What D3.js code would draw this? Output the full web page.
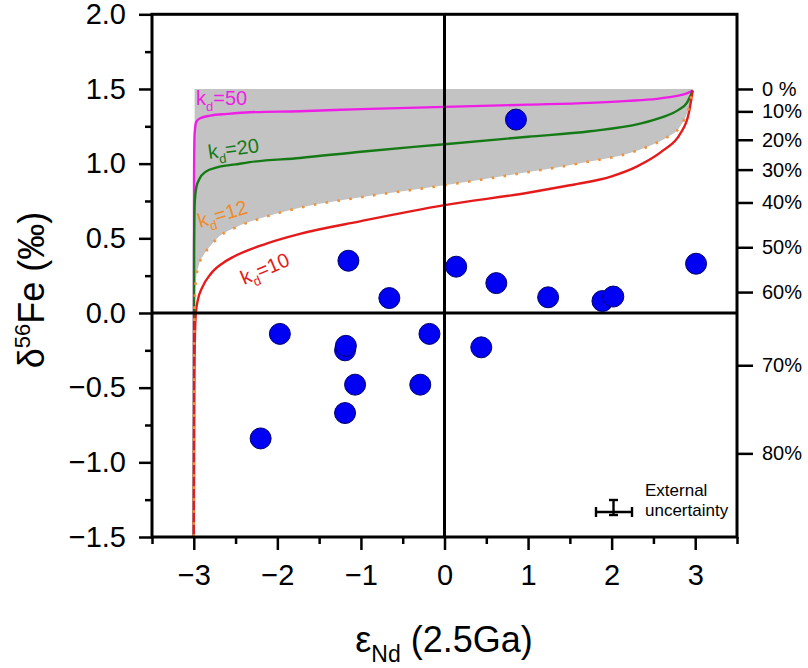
<!DOCTYPE html>
<html>
<head>
<meta charset="utf-8">
<script src="https://cdn.jsdelivr.net/npm/d3@7"></script>
<style>
  html, body { margin: 0; padding: 0; background: #fff; }
  svg { display: block; font-family: "Liberation Sans", Arial, sans-serif; }
</style>
</head>
<body>
<svg id="chart" width="808" height="668"></svg>
<script>
// ---------------- data ----------------
const sampleEpsNd = [-2.2, -1.97, -1.19, -1.18, -1.19, -1.15, -1.07, -0.66, -0.29, -0.18, 0.14, 0.44, 0.62, 0.855, 1.24, 1.89, 2.02, 3.01];
const sampleD56Fe = [-0.84, -0.14, -0.25, -0.22, -0.67, 0.35, -0.48, 0.10, -0.48, -0.14, 0.31, -0.23, 0.20, 1.295, 0.105, 0.08, 0.11, 0.33];

// mixing curves [εNd, δ56Fe]
const kd50 = [[-3.0,-1.5],[-2.997,0.9],[-2.99,1.2],[-2.97,1.28],[-2.92,1.305],[-2.8,1.322],[-2.6,1.333],[-2.33,1.344],[-1.73,1.351],[-1.0,1.365],[0,1.38],[1.0,1.395],[1.74,1.407],[2.2,1.42],[2.54,1.434],[2.75,1.45],[2.9,1.47],[2.97,1.49]];
const kd20 = [[-3.0,-1.5],[-2.997,0.4],[-2.99,0.72],[-2.97,0.84],[-2.93,0.9],[-2.86,0.945],[-2.72,0.975],[-2.5,0.995],[-2.33,1.01],[-1.73,1.038],[-1.0,1.08],[0,1.13],[1.0,1.18],[1.74,1.217],[2.34,1.268],[2.6,1.31],[2.8,1.36],[2.9,1.407],[2.97,1.49]];
const kd12 = [[-3.0,-1.5],[-2.997,-0.5],[-2.99,0.05],[-2.975,0.22],[-2.94,0.32],[-2.88,0.39],[-2.8,0.45],[-2.72,0.5],[-2.49,0.575],[-2.21,0.632],[-1.73,0.705],[-1.0,0.775],[0,0.855],[1.02,0.945],[1.74,1.015],[2.22,1.072],[2.5,1.13],[2.66,1.175],[2.82,1.25],[2.92,1.37],[2.97,1.49]];
const kd10 = [[-3.0,-1.5],[-2.995,-0.6],[-2.988,-0.2],[-2.975,0.0],[-2.95,0.09],[-2.9,0.17],[-2.8,0.26],[-2.65,0.335],[-2.53,0.375],[-2.13,0.465],[-1.73,0.53],[-1.0,0.615],[0,0.722],[1.0,0.805],[1.5,0.855],[2.0,0.915],[2.3,0.98],[2.62,1.09],[2.82,1.2],[2.92,1.33],[2.97,1.49]];
const shadeTop = 1.5;

const xTicks = [-3, -2, -1, 0, 1, 2, 3];
const xMinor = [-3.5, -2.5, -1.5, -0.5, 0.5, 1.5, 2.5, 3.5];
const yTicks = [-1.5, -1.0, -0.5, 0.0, 0.5, 1.0, 1.5, 2.0];
const yMinor = [-1.25, -0.75, -0.25, 0.25, 0.75, 1.25, 1.75];

const fracLabels = ["0 %", "10%", "20%", "30%", "40%", "50%", "60%", "70%", "80%"];
const fracValues = [1.5, 1.35, 1.16, 0.96, 0.74, 0.44, 0.14, -0.35, -0.94];

// ---------------- layout ----------------
const svg = d3.select("#chart");
const L = 152, R = 737, T = 14.3, B = 537;
const x = d3.scaleLinear().domain([-3.5, 3.5]).range([L, R]);
const y = d3.scaleLinear().domain([-1.5, 2.0]).range([B, T]);

const cMag = "#ee1ee6", cGreen = "#157a15", cRed = "#e51b1b", cOrange = "#f0923a";

// shaded region
const shadePts = kd12.filter(d => d[1] > -0.1);
svg.append("path")
  .datum(shadePts)
  .attr("fill", "#c3c3c3")
  .attr("d", d3.area().curve(d3.curveMonotoneX)
    .x(d => x(d[0])).y0(d => y(d[1])).y1(y(shadeTop)));

const line = d3.line().curve(d3.curveMonotoneX).x(d => x(d[0])).y(d => y(d[1]));
svg.append("path").datum(kd50).attr("d", line).attr("fill", "none").attr("stroke", cMag).attr("stroke-width", 2.4);
svg.append("path").datum(kd20).attr("d", line).attr("fill", "none").attr("stroke", cGreen).attr("stroke-width", 2.4);
svg.append("path").datum(kd10).attr("d", line).attr("fill", "none").attr("stroke", cRed).attr("stroke-width", 2.4);
svg.append("path").datum(kd12).attr("d", line).attr("fill", "none").attr("stroke", cOrange)
  .attr("stroke-width", 2.6).attr("stroke-dasharray", "2.6 9.4");

// zero lines
svg.append("line").attr("x1", L).attr("x2", R).attr("y1", y(0)).attr("y2", y(0)).attr("stroke", "#000").attr("stroke-width", 3);
svg.append("line").attr("x1", x(0)).attr("x2", x(0)).attr("y1", T).attr("y2", B).attr("stroke", "#000").attr("stroke-width", 3);

// samples
svg.append("g").selectAll("circle")
  .data(sampleEpsNd.map((v, i) => [v, sampleD56Fe[i]]))
  .join("circle")
  .attr("cx", d => x(d[0])).attr("cy", d => y(d[1])).attr("r", 10.5)
  .attr("fill", "#0000f2").attr("stroke", "#00006a").attr("stroke-width", 1);

// axes
function styleAxis(g) {
  g.select(".domain").remove();
  g.selectAll("line").attr("stroke", "#000").attr("stroke-width", 2.5);
  g.selectAll("text").attr("fill", "#000").style("font-family", "'Liberation Sans', Arial, sans-serif");
}
svg.append("g").attr("transform", `translate(0,${B})`)
  .call(d3.axisBottom(x).tickValues(xTicks).tickSize(13).tickPadding(14).tickFormat(d3.format("d")))
  .call(styleAxis).selectAll("text").attr("font-size", 29);
svg.append("g").attr("transform", `translate(0,${B})`)
  .call(d3.axisBottom(x).tickValues(xMinor).tickSize(7).tickFormat(""))
  .call(styleAxis);
svg.append("g").attr("transform", `translate(${L},0)`)
  .call(d3.axisLeft(y).tickValues(yTicks).tickSize(13).tickPadding(13).tickFormat(d3.format(".1f")))
  .call(styleAxis).selectAll("text").attr("font-size", 29);
svg.append("g").attr("transform", `translate(${L},0)`)
  .call(d3.axisLeft(y).tickValues(yMinor).tickSize(7).tickFormat(""))
  .call(styleAxis);

// right axis (fraction)
const yR = d3.axisRight(y).tickValues(fracValues).tickSize(16).tickPadding(9)
  .tickFormat((d, i) => fracLabels[i]);
svg.append("g").attr("transform", `translate(${R},0)`)
  .call(yR).call(styleAxis).selectAll("text").attr("font-size", 20);

// frame
svg.append("rect").attr("x", L).attr("y", T).attr("width", R - L).attr("height", B - T)
  .attr("fill", "none").attr("stroke", "#000").attr("stroke-width", 3);

// curve labels
function kdLabel(txt, color, px, py, rot) {
  const t = svg.append("text").attr("transform", `translate(${px},${py}) rotate(${rot})`)
    .attr("fill", color).attr("font-size", 20);
  t.append("tspan").text("k");
  t.append("tspan").attr("font-size", 13).attr("dy", 6).text("d");
  t.append("tspan").attr("dy", -6).text("=" + txt);
}
kdLabel("50", cMag, 196, 105, 0);
kdLabel("20", cGreen, 209, 159, -8);
kdLabel("12", "#f08a28", 200, 228, -17);
kdLabel("10", cRed, 244, 285, -23);

// axis titles
const xt = svg.append("text").attr("x", 444).attr("y", 652).attr("text-anchor", "middle").attr("font-size", 36);
xt.append("tspan").text("ε");
xt.append("tspan").attr("font-size", 23).attr("dy", 10).text("Nd");
xt.append("tspan").attr("dy", -10).text(" (2.5Ga)");

const yt = svg.append("text").attr("transform", "translate(44,290) rotate(-90)").attr("text-anchor", "middle").attr("font-size", 36);
yt.append("tspan").text("δ");
yt.append("tspan").attr("font-size", 22).attr("dy", -14).text("56");
yt.append("tspan").attr("dy", 14).text("Fe (‰)");

// external uncertainty legend
const eg = svg.append("g").attr("stroke", "#000").attr("stroke-width", 2.4);
eg.append("line").attr("x1", 596).attr("x2", 632).attr("y1", 512).attr("y2", 512);
eg.append("line").attr("x1", 596).attr("x2", 596).attr("y1", 507).attr("y2", 517);
eg.append("line").attr("x1", 632).attr("x2", 632).attr("y1", 507).attr("y2", 517);
eg.append("line").attr("x1", 613.5).attr("x2", 613.5).attr("y1", 500).attr("y2", 515);
eg.append("line").attr("x1", 609).attr("x2", 618).attr("y1", 500).attr("y2", 500);
eg.append("line").attr("x1", 609).attr("x2", 618).attr("y1", 515).attr("y2", 515);
svg.append("text").attr("x", 645).attr("y", 496).attr("font-size", 17).text("External");
svg.append("text").attr("x", 645).attr("y", 516).attr("font-size", 17).text("uncertainty");
</script>
</body>
</html>
